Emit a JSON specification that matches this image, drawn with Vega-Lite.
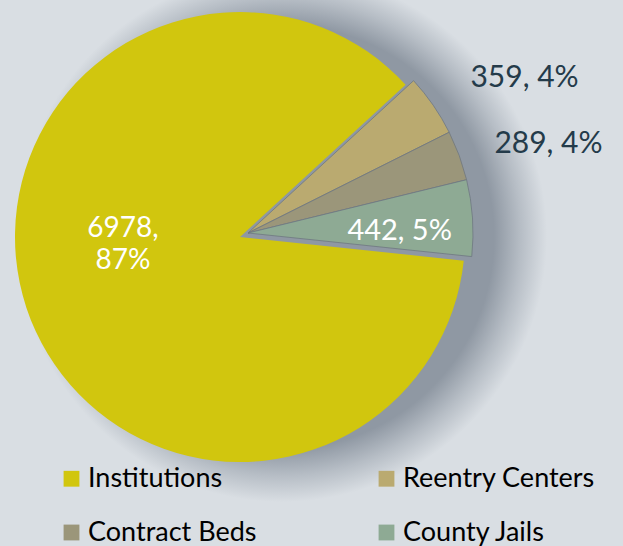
{
  "$schema": "https://vega.github.io/schema/vega-lite/v6.json",
  "width": 480,
  "height": 474,
  "autosize": "none",
  "padding": {"left": 0, "top": 0, "right": 143, "bottom": 72},
  "background": "#d9dee3",
  "config": {"view": {"stroke": null}, "font": "Lato"},
  "datasets": {
    "shares": [
      {"cat": "Institutions", "value": 6978, "label": "6978,\n87%", "ord": 1},
      {"cat": "Reentry Centers", "value": 359, "label": "359, 4%", "ord": 2},
      {"cat": "Contract Beds", "value": 289, "label": "289, 4%", "ord": 3},
      {"cat": "County Jails", "value": 442, "label": "442, 5%", "ord": 4}
    ],
    "shadow": [{"name": "shadow"}]
  },
  "layer": [
    {
      "data": {"name": "shadow"},
      "mark": {
        "type": "arc", "theta": 0, "theta2": 6.2832, "radius": 265, "xOffset": 42, "yOffset": 0,
        "fill": {"gradient": "radial", "x1": 0.5, "y1": 0.5, "r1": 0, "x2": 0.5, "y2": 0.5, "r2": 0.5,
          "stops": [
            {"offset": 0, "color": "#8f98a3"},
            {"offset": 0.8, "color": "#8f98a3"},
            {"offset": 0.9, "color": "#b6bdc5"},
            {"offset": 1, "color": "#d9dee3"}
          ]}
      }
    },
    {
      "data": {"name": "shares"},
      "encoding": {
        "theta": {"field": "value", "type": "quantitative", "stack": true, "scale": {"range": [1.676, 7.959]}},
        "order": {"field": "ord", "type": "quantitative"}
      },
      "layer": [
        {
          "mark": {"type": "arc", "radius": 225},
          "encoding": {
            "color": {
              "field": "cat", "type": "nominal",
              "scale": {"domain": ["Institutions", "Contract Beds", "Reentry Centers", "County Jails"], "range": ["#d1c60e", "#9b967a", "#baaa70", "#8eaa94"]},
              "legend": {
                "orient": "none", "legendX": 58, "legendY": 465, "columns": 2, "title": null,
                "symbolType": "square", "symbolSize": 250, "symbolOpacity": 1, "symbolStrokeWidth": 0,
                "labelFontSize": 27, "labelColor": "#000000", "labelFont": "Lato", "labelOffset": 3,
                "columnPadding": 116, "rowPadding": 26, "labelLimit": 300
              }
            },
            "opacity": {"condition": {"test": "datum.cat === 'Institutions'", "value": 1}, "value": 0}
          }
        },
        {
          "mark": {"type": "arc", "radius": 225, "xOffset": 8, "yOffset": -4, "stroke": "#6f7782", "strokeWidth": 0.8},
          "encoding": {
            "color": {"field": "cat", "type": "nominal", "legend": null},
            "opacity": {"condition": {"test": "datum.cat === 'Institutions'", "value": 0}, "value": 1}
          }
        },
        {
          "mark": {"type": "text", "radius": 117, "dx": -6, "dy": -45, "fontSize": 28, "color": "#ffffff", "lineBreak": "\n", "lineHeight": 32, "align": "center", "baseline": "middle"},
          "encoding": {"text": {"condition": {"test": "datum.cat === 'Institutions'", "field": "label"}, "value": ""}}
        },
        {
          "mark": {"type": "text", "radius": 280, "fontSize": 30, "color": "#243b4a", "align": "left", "baseline": "middle"},
          "encoding": {"text": {"condition": {"test": "datum.cat === 'Reentry Centers'", "field": "label"}, "value": ""}}
        },
        {
          "mark": {"type": "text", "radius": 271, "fontSize": 30, "color": "#243b4a", "align": "left", "baseline": "middle"},
          "encoding": {"text": {"condition": {"test": "datum.cat === 'Contract Beds'", "field": "label"}, "value": ""}}
        },
        {
          "mark": {"type": "text", "radius": 155, "dx": 5, "dy": 4, "fontSize": 29, "color": "#ffffff", "align": "center", "baseline": "middle"},
          "encoding": {"text": {"condition": {"test": "datum.cat === 'County Jails'", "field": "label"}, "value": ""}}
        }
      ]
    }
  ]
}
